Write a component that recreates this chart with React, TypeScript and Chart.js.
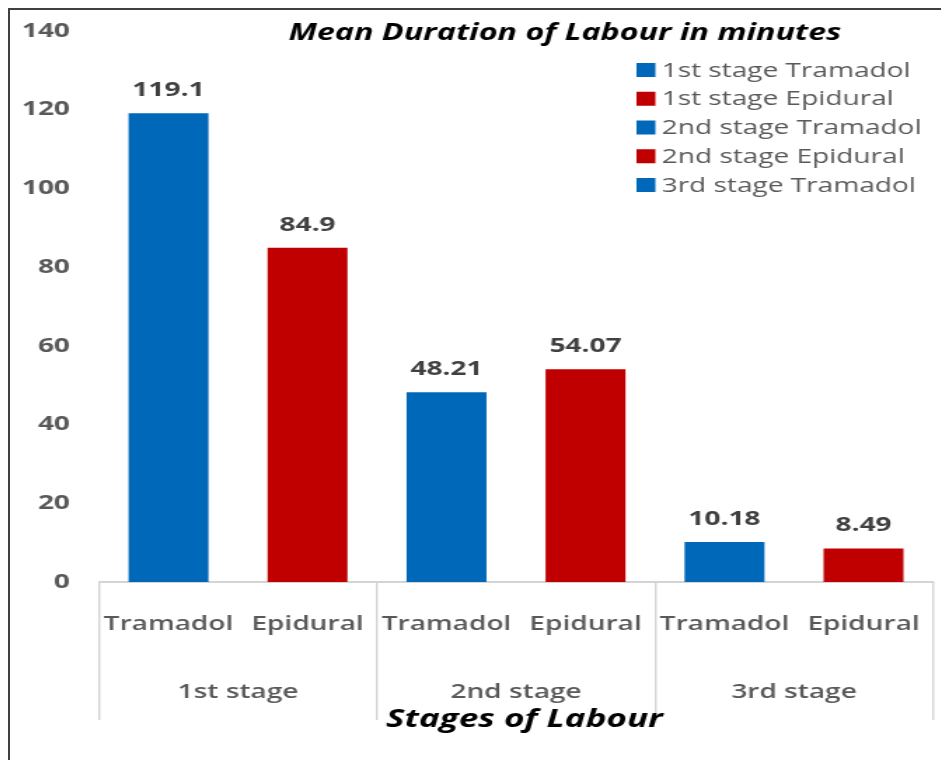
import React, { useEffect, useRef } from 'react';
import { Chart, registerables } from 'chart.js';

Chart.register(...registerables);

// ---- data ----
const categories = ['Tramadol', 'Epidural', 'Tramadol', 'Epidural', 'Tramadol', 'Epidural'];
const stageGroups = ['1st stage', '2nd stage', '3rd stage'];
const durations = [119.1, 84.9, 48.21, 54.07, 10.18, 8.49];
const barColors = ['#0068B8', '#C00000', '#0068B8', '#C00000', '#0068B8', '#C00000'];
const legendLabels = [
  '1st stage Tramadol',
  '1st stage Epidural',
  '2nd stage Tramadol',
  '2nd stage Epidural',
  '3rd stage Tramadol',
];
const legendColors = ['#0068B8', '#C00000', '#0068B8', '#C00000', '#0068B8'];
const yMin = 0;
const yMax = 140;
const yStep = 20;
const chartTitle = 'Mean Duration of Labour in minutes';
const xAxisTitle = 'Stages of Labour';

const FONT = "'Open Sans', 'DejaVu Sans', sans-serif";
const SEP = '#d4d4d4';

const annotatePlugin = {
  id: 'annotate',
  afterDatasetsDraw(chart: any) {
    const ctx = chart.ctx;
    const meta = chart.getDatasetMeta(0);
    ctx.save();
    ctx.textAlign = 'center';
    ctx.textBaseline = 'middle';
    ctx.font = `bold 20px ${FONT}`;
    ctx.fillStyle = '#404040';
    meta.data.forEach((bar: any, i: number) => {
      ctx.fillText(String(durations[i]), bar.x, bar.y - 23);
    });
    // chart title
    ctx.font = `italic bold 23px ${FONT}`;
    ctx.fillStyle = '#000000';
    ctx.fillText(chartTitle, 396, 23);
    // axis title
    ctx.font = `italic bold 25px ${FONT}`;
    ctx.fillText(xAxisTitle, 367, 710);
    // legend
    ctx.font = `500 20px ${FONT}`;
    ctx.textAlign = 'left';
    legendLabels.forEach((label, i) => {
      const y = 60 + i * 28.75;
      ctx.fillStyle = legendColors[i];
      ctx.fillRect(447, y - 7, 13.5, 14);
      ctx.fillStyle = '#595959';
      ctx.fillText(label, 465, y + 1);
    });
    ctx.restore();
  },
};

export default function App() {
  const ref = useRef<HTMLCanvasElement | null>(null);

  useEffect(() => {
    if (!ref.current) return;
    const chart = new Chart(ref.current, {
      type: 'bar',
      data: {
        labels: categories,
        datasets: [
          {
            label: 'Mean duration (min)',
            data: durations,
            backgroundColor: barColors,
            borderWidth: 0,
            barPercentage: 0.575,
            categoryPercentage: 1,
            xAxisID: 'x',
            yAxisID: 'y',
          },
        ],
      },
      options: {
        responsive: false,
        devicePixelRatio: 1,
        animation: false,
        layout: { padding: { top: 21, bottom: 40, left: 0, right: 11.4 } },
        plugins: {
          legend: { display: false },
          title: { display: false },
          tooltip: { enabled: false },
        },
        scales: {
          y: {
            min: yMin,
            max: yMax,
            ticks: {
              stepSize: yStep,
              padding: 20.7,
              color: '#595959',
              font: { family: FONT, size: 20, weight: 'bold' },
            },
            grid: { display: false, drawTicks: false },
            border: { display: false },
            afterFit: (s: any) => {
              s.width = 63.5;
              s.paddingTop = 0;
              s.paddingBottom = 0;
            },
          },
          x: {
            type: 'category',
            offset: true,
            position: 'bottom',
            ticks: {
              padding: -40,
              color: '#595959',
              font: { family: FONT, size: 20, weight: '600' },
            },
            grid: {
              offset: true,
              drawOnChartArea: false,
              drawTicks: true,
              tickLength: 70,
              lineWidth: 1.4,
              color: (c: any) =>
                c.index === undefined || c.index % 2 === 0 ? SEP : 'rgba(0,0,0,0)',
            },
            border: { display: true, color: SEP, width: 2 },
            afterFit: (s: any) => {
              s.height = 70;
            },
          },
          x2: {
            type: 'category',
            labels: stageGroups,
            offset: true,
            position: 'bottom',
            ticks: {
              padding: -40,
              color: '#595959',
              font: { family: FONT, size: 20, weight: '600' },
            },
            grid: {
              offset: true,
              drawOnChartArea: false,
              drawTicks: true,
              tickLength: 68,
              lineWidth: 1.4,
              color: SEP,
            },
            border: { display: false },
            afterFit: (s: any) => {
              s.height = 68;
            },
          },
        },
      },
      plugins: [annotatePlugin],
    } as any);
    return () => chart.destroy();
  }, []);

  return (
    <div
      style={{
        width: 939,
        height: 750,
        borderTop: '2px solid #404040',
        borderLeft: '2px solid #404040',
        background: '#ffffff',
      }}
    >
      <canvas
        ref={ref}
        width={670}
        height={750}
        style={{ width: '939px', height: '750px', display: 'block' }}
      />
    </div>
  );
}
